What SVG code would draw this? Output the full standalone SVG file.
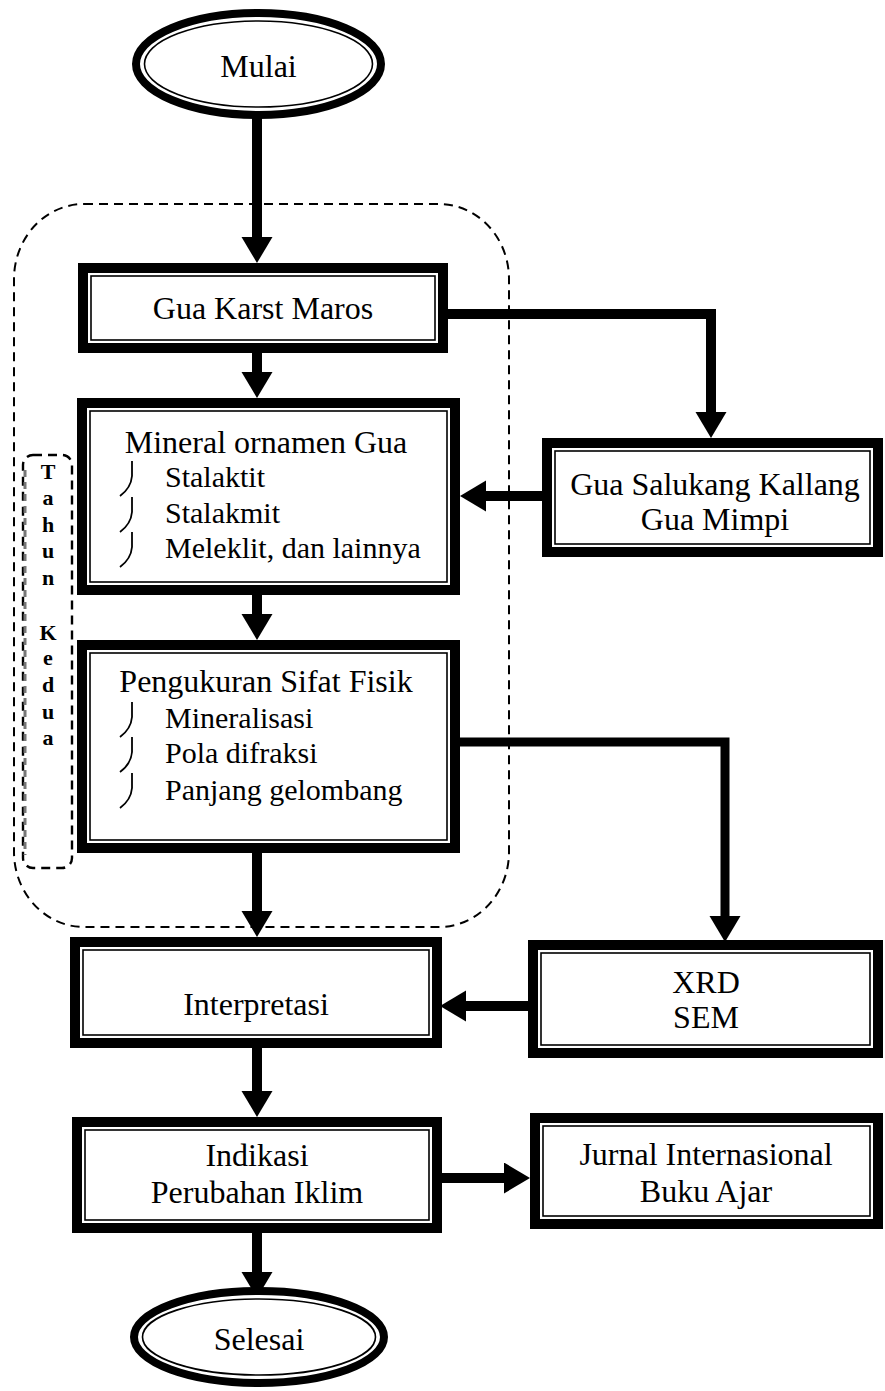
<svg xmlns="http://www.w3.org/2000/svg" width="885" height="1391" viewBox="0 0 885 1391">
<style>
.bg{fill:#fff}
.outer{fill:#fff;stroke:#000;stroke-width:10}
.inner{fill:none;stroke:#000;stroke-width:1.6}
.eo{fill:#fff;stroke:#000;stroke-width:8}
.ei{fill:none;stroke:#000;stroke-width:1.6}
.t{font-family:"Liberation Serif","Times New Roman",serif;font-size:32px;fill:#000;text-anchor:middle}
.tl{font-family:"Liberation Serif","Times New Roman",serif;font-size:30px;fill:#000}
.tb{font-family:"Liberation Serif","Times New Roman",serif;font-size:22px;font-weight:bold;fill:#000;text-anchor:middle}
.c{fill:none;stroke:#000;stroke-width:10;stroke-linejoin:miter}
.d{fill:none;stroke:#000;stroke-width:2;stroke-dasharray:9 6}
.bul{fill:none;stroke:#000;stroke-width:1.8}
</style>
<defs>
<marker id="ah" markerUnits="userSpaceOnUse" markerWidth="28" markerHeight="32" refX="6" refY="15.5" orient="auto">
<path d="M0,0 L26,15.5 L0,31 Z" fill="#000"/>
</marker>
</defs>
<rect class="bg" x="0" y="0" width="885" height="1391"/>

<g id="group-tahun">
<rect class="d" x="14" y="204" width="495" height="723" rx="70" ry="75"/>
<rect class="d" x="23" y="455" width="49" height="413" rx="10" ry="10" style="stroke-width:2.4"/>
<line x1="25" y1="470" x2="25" y2="855" stroke="#777" stroke-width="3" stroke-dasharray="7 5"/>
<text class="tb" x="48" y="479">T</text>
<text class="tb" x="48" y="505">a</text>
<text class="tb" x="48" y="532">h</text>
<text class="tb" x="48" y="558">u</text>
<text class="tb" x="48" y="585">n</text>
<text class="tb" x="48" y="640">K</text>
<text class="tb" x="48" y="665">e</text>
<text class="tb" x="48" y="692">d</text>
<text class="tb" x="48" y="719">u</text>
<text class="tb" x="48" y="745">a</text>
</g>

<g id="connectors">
<line class="c" x1="257" y1="118" x2="257" y2="243" marker-end="url(#ah)"/>
<line class="c" x1="257" y1="353" x2="257" y2="378" marker-end="url(#ah)"/>
<polyline class="c" points="448,314 711,314 711,418" marker-end="url(#ah)"/>
<line class="c" x1="542" y1="496" x2="480" y2="496" marker-end="url(#ah)"/>
<line class="c" x1="257" y1="595" x2="257" y2="620" marker-end="url(#ah)"/>
<polyline class="c" points="460,742 725,742 725,922" style="stroke-width:9" marker-end="url(#ah)"/>
<line class="c" x1="257" y1="853" x2="257" y2="917" marker-end="url(#ah)"/>
<line class="c" x1="528" y1="1006" x2="460" y2="1006" marker-end="url(#ah)"/>
<line class="c" x1="257" y1="1048" x2="257" y2="1097" marker-end="url(#ah)"/>
<line class="c" x1="442" y1="1178" x2="510" y2="1178" marker-end="url(#ah)"/>
<line class="c" x1="257" y1="1233" x2="257" y2="1278" marker-end="url(#ah)"/>
</g>

<g id="node-mulai">
<ellipse class="eo" cx="258.5" cy="64" rx="122.5" ry="51"/>
<ellipse class="ei" cx="258.5" cy="64" rx="114" ry="43"/>
<text class="t" x="258.5" y="77">Mulai</text>
</g>

<g id="node-gua-karst">
<rect class="outer" x="83" y="268" width="360" height="80"/>
<rect class="inner" x="91" y="276" width="344" height="64"/>
<text class="t" x="263" y="319">Gua Karst Maros</text>
</g>

<g id="node-gua-salukang">
<rect class="outer" x="547" y="443" width="331" height="109"/>
<rect class="inner" x="555" y="451" width="315" height="93"/>
<text class="t" x="715" y="495">Gua Salukang Kallang</text>
<text class="t" x="715" y="530">Gua Mimpi</text>
</g>

<g id="node-mineral">
<rect class="outer" x="82" y="403" width="373" height="187"/>
<rect class="inner" x="90" y="411" width="357" height="171"/>
<text class="t" x="266" y="453">Mineral ornamen Gua</text>
<path class="bul" d="M132,461 L132,476 Q131,488 120,496"/>
<text class="tl" x="165" y="487">Stalaktit</text>
<path class="bul" d="M132,497 L132,512 Q131,524 120,532"/>
<text class="tl" x="165" y="523">Stalakmit</text>
<path class="bul" d="M132,532 L132,547 Q131,559 120,567"/>
<text class="tl" x="165" y="558">Meleklit, dan lainnya</text>
</g>

<g id="node-pengukuran">
<rect class="outer" x="82" y="645" width="373" height="203"/>
<rect class="inner" x="90" y="653" width="357" height="187"/>
<text class="t" x="266" y="692">Pengukuran Sifat Fisik</text>
<path class="bul" d="M132,702 L132,717 Q131,729 120,737"/>
<text class="tl" x="165" y="728">Mineralisasi</text>
<path class="bul" d="M132,737 L132,752 Q131,764 120,772"/>
<text class="tl" x="165" y="763">Pola difraksi</text>
<path class="bul" d="M132,773 L132,788 Q131,800 120,808"/>
<text class="tl" x="165" y="800">Panjang gelombang</text>
</g>

<g id="node-xrd">
<rect class="outer" x="533" y="945" width="345" height="108"/>
<rect class="inner" x="541" y="953" width="329" height="92"/>
<text class="t" x="706" y="993">XRD</text>
<text class="t" x="706" y="1028">SEM</text>
</g>

<g id="node-interpretasi">
<rect class="outer" x="75" y="942" width="362" height="101"/>
<rect class="inner" x="83" y="950" width="346" height="85"/>
<text class="t" x="256" y="1015">Interpretasi</text>
</g>

<g id="node-indikasi">
<rect class="outer" x="77" y="1122" width="360" height="106"/>
<rect class="inner" x="85" y="1130" width="344" height="90"/>
<text class="t" x="257" y="1166">Indikasi</text>
<text class="t" x="257" y="1203">Perubahan Iklim</text>
</g>

<g id="node-jurnal">
<rect class="outer" x="535" y="1118" width="343" height="106"/>
<rect class="inner" x="543" y="1126" width="327" height="90"/>
<text class="t" x="706" y="1165">Jurnal Internasional</text>
<text class="t" x="706" y="1202">Buku Ajar</text>
</g>

<g id="node-selesai">
<ellipse class="eo" cx="259" cy="1337" rx="125" ry="46"/>
<ellipse class="ei" cx="259" cy="1337" rx="116.5" ry="38"/>
<text class="t" x="259" y="1350">Selesai</text>
</g>
</svg>
